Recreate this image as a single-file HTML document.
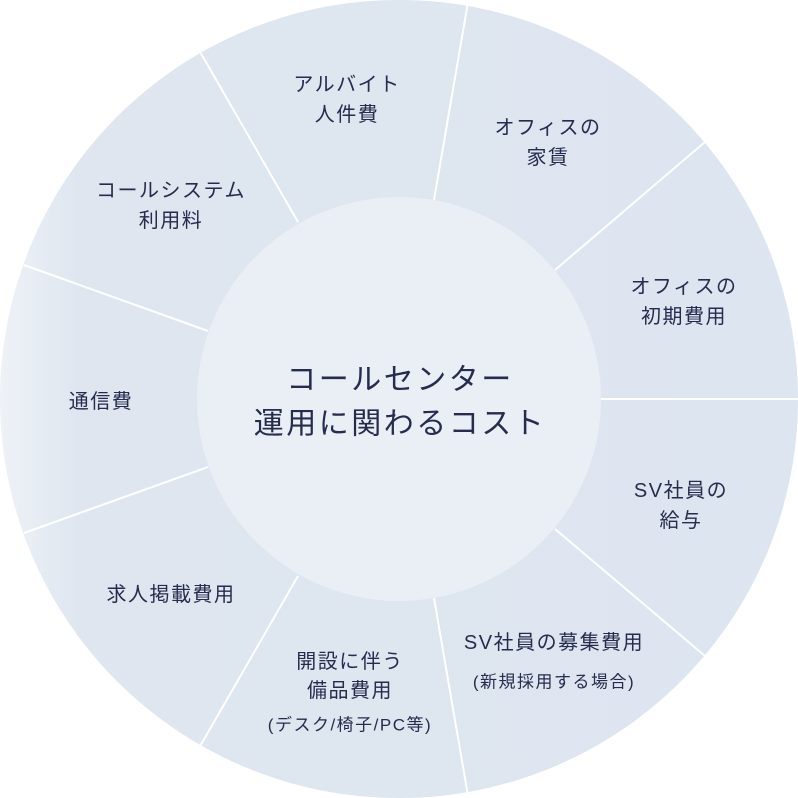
<!DOCTYPE html>
<html><head><meta charset="utf-8"><style>
html,body{margin:0;padding:0;background:#fff;width:798px;height:798px;overflow:hidden}
svg text{font-family:"Liberation Sans","Noto Sans CJK JP",sans-serif;fill:#252c4e;text-anchor:middle;dominant-baseline:central}
</style></head><body>
<svg width="798" height="798" viewBox="0 0 798 798" xmlns="http://www.w3.org/2000/svg">
<defs>
<linearGradient id="g" x1="0" y1="0" x2="1" y2="0">
<stop offset="0" stop-color="#eef2f7"/>
<stop offset="0.1" stop-color="#dfe6f0"/>
<stop offset="1" stop-color="#dde5f0"/>
</linearGradient>
</defs>
<circle cx="399" cy="399" r="399" fill="url(#g)"/>
<g stroke="#ffffff" stroke-width="2">
<line x1="434" y1="200" x2="468" y2="2"/>
<line x1="298" y1="222" x2="199" y2="50"/>
<line x1="555" y1="270" x2="705" y2="142"/>
<line x1="601" y1="399" x2="798" y2="399"/>
<line x1="555" y1="529" x2="705" y2="656"/>
<line x1="434" y1="598" x2="468" y2="796"/>
<line x1="298" y1="576" x2="199" y2="748"/>
<line x1="208" y1="467" x2="24" y2="533"/>
<line x1="208" y1="331" x2="24" y2="265"/>
</g>
<circle cx="399" cy="399" r="202" fill="#eaeff5"/>
<g font-size="20" letter-spacing="1.5">
<text x="347" y="85">アルバイト</text><text x="347" y="115">人件費</text>
<text x="548" y="128">オフィスの</text><text x="548" y="158">家賃</text>
<text x="684" y="287">オフィスの</text><text x="684" y="317">初期費用</text>
<text x="171" y="191">コールシステム</text><text x="171" y="221">利用料</text>
<text x="101" y="402">通信費</text>
<text x="681" y="491">SV社員の</text><text x="681" y="521">給与</text>
<text x="554" y="643">SV社員の募集費用</text>
<text x="171" y="595">求人掲載費用</text>
<text x="350" y="662">開設に伴う</text><text x="350" y="691">備品費用</text>
</g>
<g font-size="17" letter-spacing="1.5">
<text x="554" y="682">(新規採用する場合)</text>
<text x="350" y="725">(デスク/椅子/PC等)</text>
</g>
<g font-size="30" letter-spacing="2.5">
<text x="400" y="380">コールセンター</text>
<text x="400" y="424">運用に関わるコスト</text>
</g>
</svg>
</body></html>
